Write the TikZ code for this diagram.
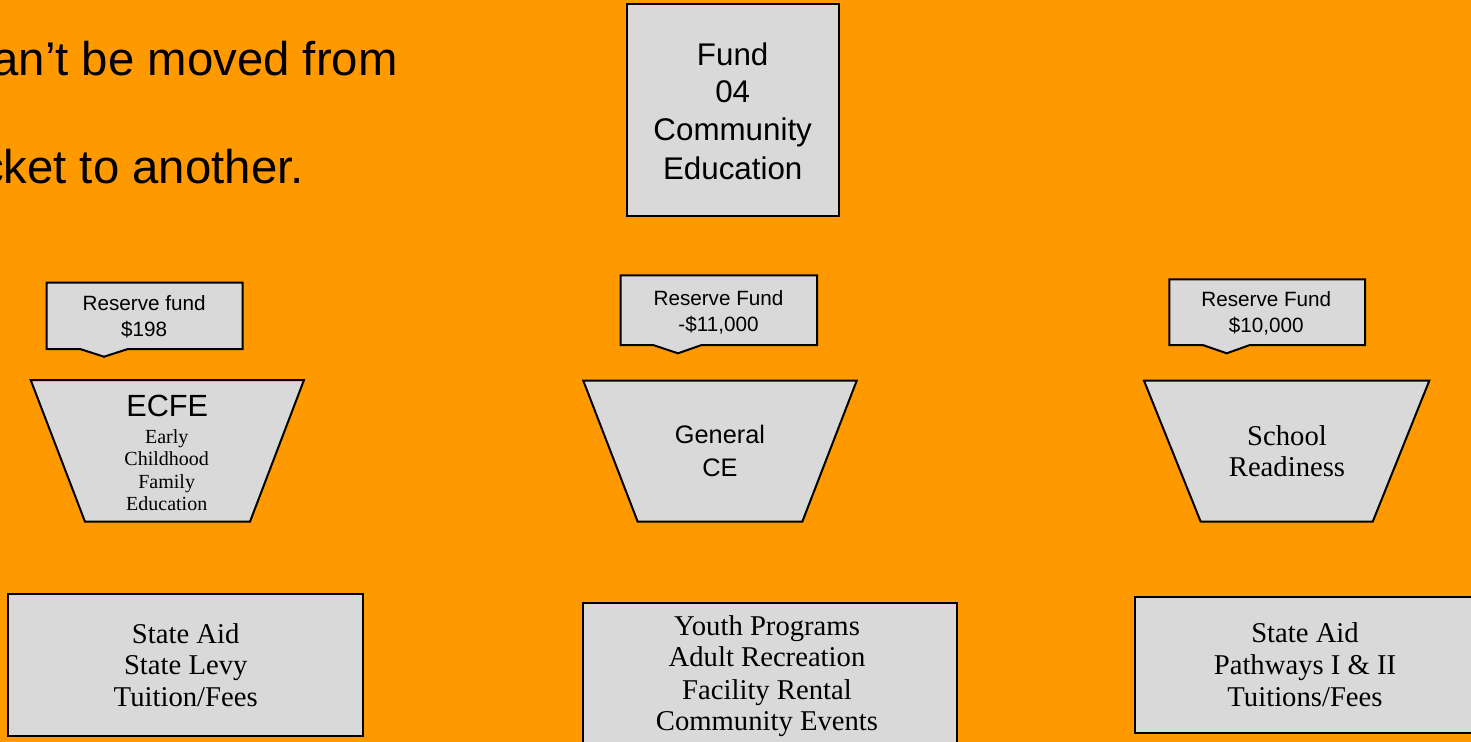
\documentclass[tikz,border=0pt]{standalone}
\usepackage{fontspec}
\setmainfont{Liberation Serif}
\newfontfamily\arialf{Liberation Sans}
\definecolor{bg}{HTML}{FF9900}
\definecolor{boxgray}{HTML}{D9D9D9}
\begin{document}
\begin{tikzpicture}[x=0.75pt,y=-0.75pt,
 shapebox/.style={fill=boxgray,draw=black,line width=1.5pt,line join=miter},
 lbl/.style={inner sep=0pt,anchor=base},
 headtxt/.style={inner sep=0pt,anchor=base east,font=\arialf\fontsize{35.5}{42}\selectfont},
 fundtxt/.style={lbl,font=\arialf\fontsize{23.5}{28}\selectfont},
 restxt/.style={lbl,font=\arialf\fontsize{15.5}{19}\selectfont},
 ecfetxt/.style={lbl,font=\arialf\fontsize{23}{28}\selectfont},
 smallserif/.style={lbl,font=\fontsize{15}{18}\selectfont},
 gentxt/.style={lbl,font=\arialf\fontsize{19}{23}\selectfont},
 bigserif/.style={lbl,font=\fontsize{21.5}{26}\selectfont}]
\useasboundingbox (0,0) rectangle (1471,742);
\clip (0,0) rectangle (1471,742);
\fill[bg] (0,0) rectangle (1471,742);

% heading text (cut at left edge)
\node[headtxt] (h1) at (398,76) {an’t be moved from};
\node[headtxt] (h2) at (304,183) {cket to another.};

% Fund 04 box
\draw[shapebox] (626.7,4) rectangle (838.7,216);
\node[fundtxt] (f1) at (732.7,65) {Fund};
\node[fundtxt] (f2) at (732.7,103) {04};
\node[fundtxt] (f3) at (732.7,141) {Community};
\node[fundtxt] (f4) at (732.7,179) {Education};

% reserve callouts
\draw[shapebox] (46.7,282.7) -- (242.7,282.7) -- (242.7,349) -- (128,349) -- (104,356.7) -- (80,349) -- (46.7,349) -- cycle;
\node[restxt] (r1a) at (144.2,310.7) {Reserve fund};
\node[restxt] (r1b) at (144.2,336.7) {\$198};

\draw[shapebox] (620.7,275.3) -- (817,275.3) -- (817,345) -- (701.7,345) -- (678,353.3) -- (653,345) -- (620.7,345) -- cycle;
\node[restxt] (r2a) at (718.5,305) {Reserve Fund};
\node[restxt] (r2b) at (718.5,331) {-\$11,000};

\draw[shapebox] (1169.3,279.3) -- (1365,279.3) -- (1365,345) -- (1250,345) -- (1226.7,353.3) -- (1202.7,345) -- (1169.3,345) -- cycle;
\node[restxt] (r3a) at (1266.3,306.7) {Reserve Fund};
\node[restxt] (r3b) at (1266.3,332.7) {\$10,000};

% trapezoids
\draw[shapebox] (30.7,380) -- (304,380) -- (250,521.7) -- (85,521.7) -- cycle;
\node[ecfetxt] (e0) at (167.2,416.7) {ECFE};
\node[smallserif] (e1) at (166.7,443.3) {Early};
\node[smallserif] (e2) at (166.7,465) {Childhood};
\node[smallserif] (e3) at (166.7,488.3) {Family};
\node[smallserif] (e4) at (166.7,510) {Education};

\draw[shapebox] (583.3,380.7) -- (856.7,380.7) -- (802.3,521.7) -- (637.7,521.7) -- cycle;
\node[gentxt] (g1) at (720,443.3) {General};
\node[gentxt] (g2) at (720,476.7) {CE};

\draw[shapebox] (1144,380.7) -- (1429.3,380.7) -- (1372.7,521.7) -- (1200.7,521.7) -- cycle;
\node[bigserif] (s1) at (1287,445) {School};
\node[bigserif] (s2) at (1287,476.7) {Readiness};

% bottom boxes
\draw[shapebox] (8.3,594) rectangle (363.3,735.7);
\node[bigserif] (b1a) at (185.7,643.3) {State Aid};
\node[bigserif] (b1b) at (185.7,674) {State Levy};
\node[bigserif] (b1c) at (185.7,706) {Tuition/Fees};

\draw[shapebox] (582.7,602.7) rectangle (956.7,760);
\node[bigserif] (b2a) at (767,635) {Youth Programs};
\node[bigserif] (b2b) at (767,666.7) {Adult Recreation};
\node[bigserif] (b2c) at (767,699.3) {Facility Rental};
\node[bigserif] (b2d) at (767,730) {Community Events};

\draw[shapebox] (1135,597.3) rectangle (1490,732.7);
\node[bigserif] (b3a) at (1305,642.7) {State Aid};
\node[bigserif] (b3b) at (1305,674.3) {Pathways I \& II};
\node[bigserif] (b3c) at (1305,706) {Tuitions/Fees};
\end{tikzpicture}
\end{document}
